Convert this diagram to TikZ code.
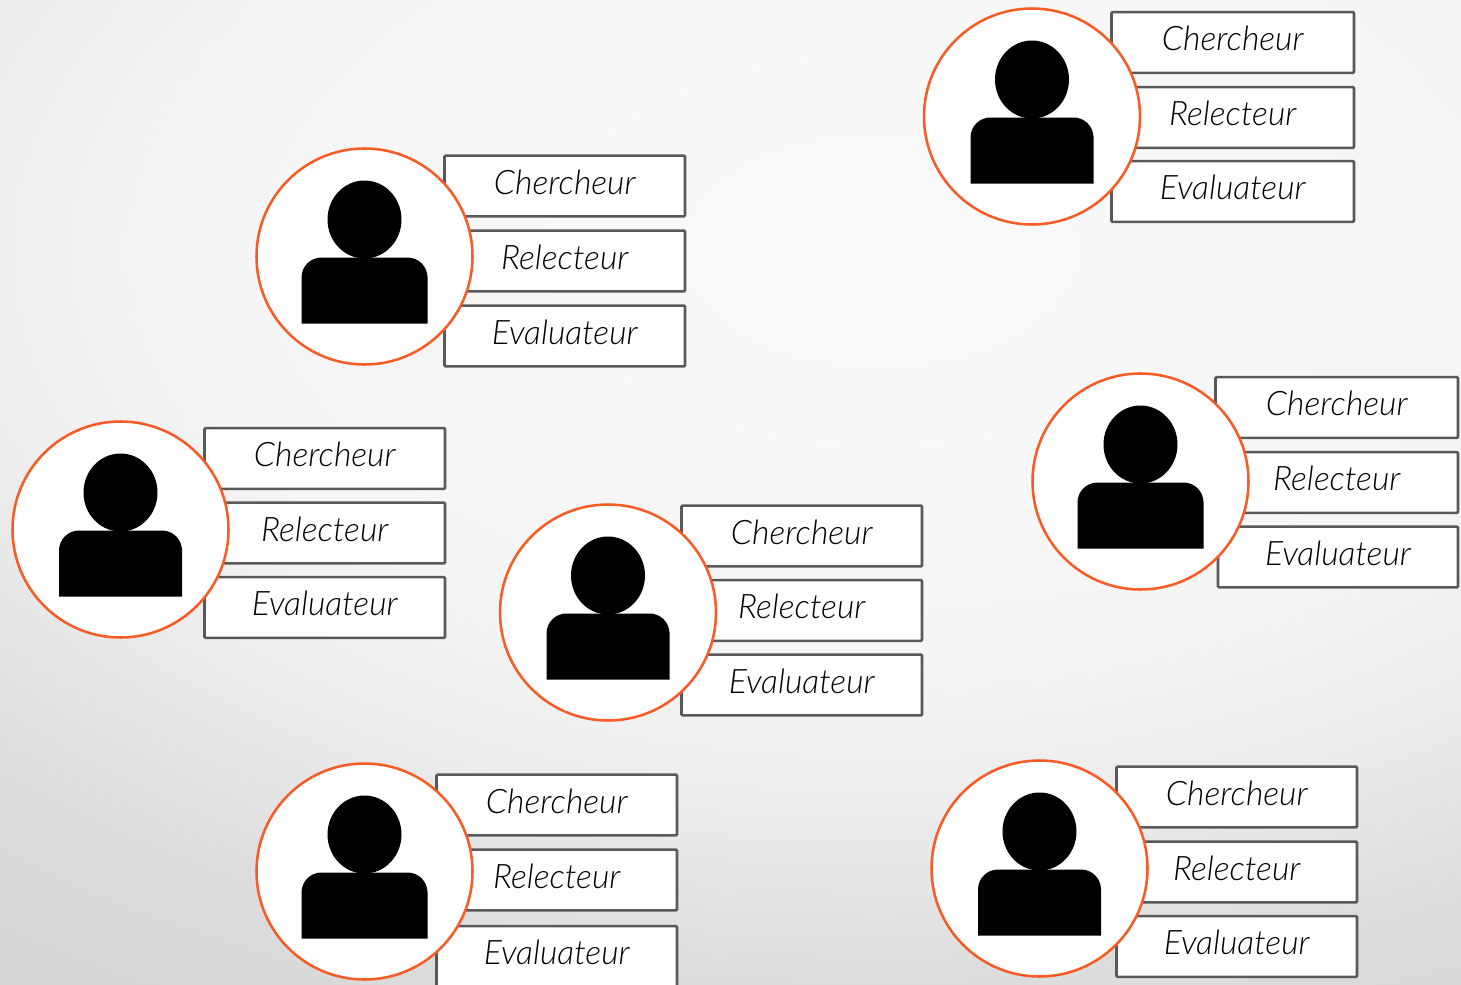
\documentclass[tikz,border=0pt]{standalone}
\usepackage{fontspec}
\setmainfont{Lato Light}[ItalicFont={Lato Light Italic}]
\usetikzlibrary{positioning,calc,shapes.geometric}
\definecolor{edgeorange}{HTML}{F95B26}
\definecolor{blockgray}{HTML}{595959}
\pgfdeclareradialshading{slidebg}{\pgfpointorigin}{%
  color(0bp)=(white!98!black); color(11.5bp)=(white!96!black); color(15.5bp)=(white!92.5!black);
  color(20bp)=(white!86.5!black); color(25bp)=(white!84!black); color(50bp)=(white!84!black)}
\tikzset{
block/.style = {draw=blockgray, fill=white, rectangle, line width=1.9pt, rounded corners=0.8pt, minimum height=45.5pt, text depth=6pt, text height=18pt, inner sep=0pt, font=\fontsize{25.3}{30}\selectfont\itshape, text=black},
person/.style = {draw=edgeorange, fill=white, circle, line width=1.9pt, minimum size=162pt, inner sep=0pt},
head/.style = {fill=black, ellipse, minimum width=55.5pt, minimum height=58.5pt, inner sep=0pt}
}

\begin{document}
\begin{tikzpicture}[x=0.75pt, y=-0.75pt]
  \clip (0,0) rectangle (1461,985);
  \shade [shading=slidebg] (880,250) ellipse [x radius=1560, y radius=912];

  % name / circle x,y / box x,width / box centres / last box x,width / body width
  \foreach \name/\cx/\cy/\bx/\bw/\ya/\yb/\yc/\lx/\lw/\sw in {
    a/1032/116.5/1232.75/242.5/42.5/117.5/191.5/1232.75/242.5/123,
    b/364.5/256.5/564.75/240.5/186/261/336/564.75/240.5/126,
    c/120.5/529.5/324.75/240.5/458.5/533/607.5/324.75/240.5/123,
    d/608/612.5/801.75/240.5/536/610.5/685/801.75/240.5/123,
    e/1140.5/481.5/1336.75/242.5/407.5/482.5/557/1338/240/126,
    f/364.5/871.5/556.75/240.5/805/880/956.5/556.75/240.5/126,
    g/1039.5/868.5/1236.75/240.5/797/872/946.5/1236.75/240.5/123}
  {
    \node [block, minimum width=\bw*0.75pt] (\name1) at (\bx,\ya) {Chercheur};
    \node [block, minimum width=\bw*0.75pt] (\name2) at (\bx,\yb) {Relecteur};
    \node [block, minimum width=\lw*0.75pt] (\name3) at (\lx,\yc) {Evaluateur};
    \node [person] (\name) at (\cx,\cy) {};
    \node [head, above=27.75pt of \name.center, anchor=center] (\name head) {};
    \fill [rounded corners=15pt] ($(\name.center)+(-\sw/2,67)$) -- ($(\name.center)+(-\sw/2,1)$)
      -- ($(\name.center)+(\sw/2,1)$) -- ($(\name.center)+(\sw/2,40)$) [sharp corners]
      -- ($(\name.center)+(\sw/2,67)$) -- cycle;
  }
\end{tikzpicture}
\end{document}
